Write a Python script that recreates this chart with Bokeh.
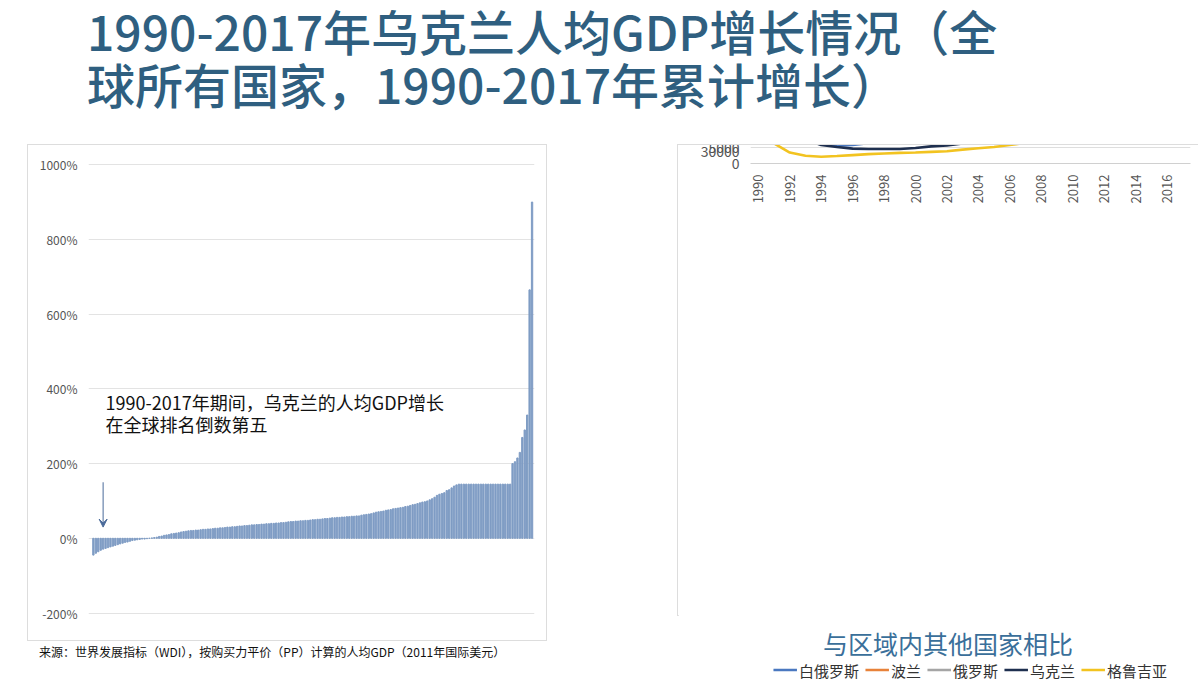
from bokeh.plotting import figure
from bokeh.models import Div, Spacer, Legend, LegendItem, FixedTicker, Label, Arrow, VeeHead, CustomJSTickFormatter
from bokeh.layouts import column, row
from bokeh.embed import file_html
from bokeh.resources import INLINE

FONT = "Noto Sans CJK SC"

growth = [-45,-40,-36,-32,-29,-27,-25,-23,-21,-19,-17,-15,-13,-11,-10,-8,-6,-5,-4,-3,-2,-2,-1,0,1,2,3,5,6,8,9,10,12,13,14,15,17,18,19,20,
          21,21,22,22,23,24,24,25,25,26,27,27,28,28,29,30,30,31,31,32,33,33,34,34,35,36,36,37,37,38,38,39,39,40,40,41,41,42,42,43,
          44,45,45,46,46,47,47,48,48,49,50,50,51,51,52,53,53,54,55,55,56,56,57,57,58,58,59,59,60,60,
          62,63,64,65,66,68,70,71,72,73,75,76,77,79,80,81,82,83,85,86,88,90,91,93,95,97,98,100,103,106,
          110,115,118,120,122,128,130,135,140,143,
          145,145,145,145,145,145,145,145,145,145,145,145,145,145,145,145,145,145,145,145,145,145,
          200,205,215,230,270,290,330,665,900]
ranks = list(range(1, len(growth) + 1))

years = list(range(1990, 2018))
belarus = [8400,8300,7500,6900,6200,5500,5700,6300,6800,7100,7500,7900,8400,9100,10200,11300,12500,13600,15000,15000,16200,17100,17400,17600,17900,17200,16700,17100]
poland = [10200,9600,9700,10000,10500,11200,11900,12500,13200,13800,14700,14900,15200,15800,16500,17100,18300,19500,20400,21000,21800,22800,23100,23500,24300,25200,26000,27400]
russia = [20700,19500,16700,15300,13400,12900,12400,12500,11900,12600,14000,14900,15500,16500,17800,19200,21000,22800,24000,22100,23300,24300,25100,25500,25300,24500,24400,24800]
ukraine = [10500,9600,8700,7500,5700,5100,4600,4500,4500,4500,4800,5300,5600,6200,7000,7300,7900,8500,8700,7500,7800,8200,8300,8300,8300,7400,7700,7900]
kyrgyz = [8000,6200,3400,2400,2100,2300,2600,2900,3100,3300,3400,3600,3800,4300,4700,5100,5700,6400,6700,6500,6900,7500,8000,8300,8600,8900,9200,9700]
series_names = ["白俄罗斯", "波兰", "俄罗斯", "乌克兰", "格鲁吉亚"]
series_colors = ["#4a78c0", "#e8823a", "#a5a5a5", "#1e2f4f", "#f2c320"]

title = Div(text="1990-2017年乌克兰人均GDP增长情况（全<br>球所有国家，1990-2017年累计增长）",
            width=1170, height=135,
            styles={"font-family": FONT, "font-size": "48px", "color": "#2f5f80",
                    "line-height": "1.1", "margin-left": "87px", "margin-top": "4px", "font-weight": "500",
                    "white-space": "nowrap"})

# Left chart
p1 = figure(width=520, height=497, output_backend="svg", toolbar_location=None,
            x_range=(-1, len(growth) + 1), y_range=(-220, 1030),
            min_border_left=60, min_border_right=14, min_border_top=8, min_border_bottom=22,
            styles={"border": "1px solid #dddddd"})
p1.vbar(x=ranks, top=growth, bottom=0, width=0.55, color="#7f9cc4")
p1.xaxis.visible = False
p1.yaxis.ticker = FixedTicker(ticks=[-200, 0, 200, 400, 600, 800, 1000])
p1.yaxis.formatter = CustomJSTickFormatter(code="return tick + '%'")
p1.yaxis.axis_line_color = None
p1.yaxis.major_tick_line_color = None
p1.yaxis.minor_tick_line_color = None
p1.yaxis.major_label_text_font = FONT
p1.yaxis.major_label_text_color = "#555555"
p1.yaxis.major_label_text_font_size = "12px"
p1.xgrid.grid_line_color = None
p1.ygrid.grid_line_color = "#e3e3e3"
p1.outline_line_color = None
p1.add_layout(Label(x=6, y=330, text="1990-2017年期间，乌克兰的人均GDP增长", text_font=FONT,
                    text_font_size="18px", text_color="#111111"))
p1.add_layout(Label(x=6, y=270, text="在全球排名倒数第五", text_font=FONT,
                    text_font_size="18px", text_color="#111111"))
p1.add_layout(Arrow(end=VeeHead(size=8, fill_color="#4a6a9a", line_color="#4a6a9a"),
                    x_start=5, y_start=150, x_end=5, y_end=30, line_color="#4a6a9a", line_width=1))

src = Div(text="来源：世界发展指标（WDI），按购买力平价（PP）计算的人均GDP（2011年国际美元）",
          width=560, height=30,
          styles={"font-family": FONT, "font-size": "12px", "color": "#111", "margin-left": "12px", "margin-top": "2px"})

# Right chart
p2 = figure(width=532, height=472, output_backend="svg", toolbar_location=None,
            x_range=(1989.5, 2017.5), y_range=(0, 30000),
            min_border_left=72, min_border_right=20, min_border_top=18, min_border_bottom=10,
            styles={"border": "1px solid #dddddd"})
items = []
for name, ys, c in zip(series_names, [belarus, poland, russia, ukraine, kyrgyz], series_colors):
    r = p2.line(years, ys, line_color=c, line_width=2.6)
    items.append(LegendItem(label=name, renderers=[r]))
leg = Legend(items=items, orientation="horizontal", label_text_font=FONT, label_text_font_size="15px",
             label_text_color="#333", border_line_color=None, spacing=6, padding=0, margin=4,
             glyph_width=24, label_standoff=2, location="center")
p2.add_layout(leg, "below")
p2.xaxis.ticker = FixedTicker(ticks=list(range(1990, 2017, 2)))
p2.xaxis.major_label_orientation = 1.5708
p2.xaxis.major_label_text_font = FONT
p2.xaxis.major_label_text_font_size = "13px"
p2.xaxis.major_label_text_color = "#555"
p2.xaxis.axis_line_color = "#d0d0d0"
p2.xaxis.major_tick_line_color = None
p2.xaxis.minor_tick_line_color = None
p2.yaxis.ticker = FixedTicker(ticks=list(range(0, 30001, 5000)))
p2.yaxis.major_label_text_font = FONT
p2.yaxis.major_label_text_font_size = "14px"
p2.yaxis.major_label_text_color = "#555"
p2.yaxis.axis_line_color = None
p2.yaxis.major_tick_line_color = None
p2.yaxis.minor_tick_line_color = None
p2.xgrid.grid_line_color = None
p2.ygrid.grid_line_color = "#dedede"
p2.outline_line_color = None

cap = Div(text="与区域内其他国家相比", width=532, height=40,
          styles={"font-family": FONT, "font-size": "25px", "color": "#3a6f9a",
                  "text-align": "center", "width": "532px", "margin-top": "10px"})

layout = column(title,
                row(Spacer(width=27), column(p1, src, spacing=0), Spacer(width=73), column(p2, cap, spacing=0), spacing=0),
                spacing=0)

open("out.html", "w").write(file_html(layout, INLINE))
